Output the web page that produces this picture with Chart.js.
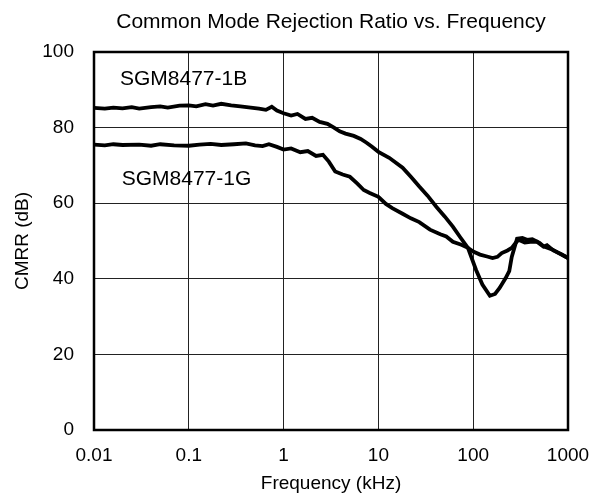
<!DOCTYPE html>
<html>
<head>
<meta charset="utf-8">
<script src="https://cdn.jsdelivr.net/npm/chart.js@4"></script>
<style>
  html, body { margin: 0; padding: 0; background: #fff; }
  #wrap { width: 592px; height: 499px; }
</style>
</head>
<body>
<div id="wrap"><canvas id="c" width="592" height="499"></canvas></div>
<script>
// ---- data ----
const freqB = [0.01,0.013,0.016,0.02,0.025,0.03,0.04,0.05,0.06,0.08,0.1,0.12,0.15,0.18,0.22,0.28,0.35,0.45,0.55,0.65,0.75,0.85,1.0,1.2,1.4,1.7,2.0,2.4,2.9,3.4,3.9,4.5,5.5,6.5,7.5,8.5,10,13,18,22,27,33,41,50,61,73,88,107,125,150,170,190,220,240,255,290,330,370,420,500,560,690,800,1000];
const cmrrB = [85.2,85.0,85.3,85.1,85.4,85.0,85.4,85.6,85.3,85.8,85.9,85.6,86.2,85.8,86.3,85.9,85.6,85.3,85.0,84.7,85.5,84.5,83.8,83.2,83.6,82.3,82.6,81.5,81.0,80.0,79.0,78.4,77.8,77.0,76.0,75.0,73.6,72.0,69.4,67.0,64.4,62.0,59.0,56.5,53.8,51.0,48.2,42.4,38.5,35.5,36.0,37.6,40.2,42.0,45.8,50.6,50.8,50.3,50.5,49.5,48.5,47.7,46.8,45.5];

const freqG = [0.01,0.013,0.016,0.02,0.03,0.04,0.05,0.07,0.1,0.13,0.17,0.22,0.3,0.4,0.5,0.6,0.7,0.85,1.0,1.2,1.5,1.8,2.2,2.6,3.0,3.5,4.2,5.0,6.0,7.0,8.1,10,12,14,18,22,27,35,45,52,61,75,88,100,118,140,160,180,200,230,255,280,300,350,400,470,550,600,700,850,1000];
const cmrrG = [75.5,75.3,75.6,75.4,75.5,75.2,75.6,75.3,75.2,75.5,75.7,75.4,75.6,75.8,75.3,75.1,75.6,74.9,74.2,74.5,73.5,73.8,72.5,72.8,71.0,68.4,67.6,67.0,65.2,63.5,62.7,61.7,59.8,58.7,57.2,56.0,55.0,53.0,51.8,51.2,49.8,49.0,48.2,47.2,46.4,45.9,45.5,45.8,46.8,47.5,48.2,49.5,50.3,49.6,49.8,49.8,48.5,48.9,47.5,46.5,45.5];

const seriesNames = ['SGM8477-1B', 'SGM8477-1G'];
const xTicks = [0.01, 0.1, 1, 10, 100, 1000];
const xTickLabels = ['0.01', '0.1', '1', '10', '100', '1000'];
const yTicks = [0, 20, 40, 60, 80, 100];
const titleText = 'Common Mode Rejection Ratio vs. Frequency';
const xTitle = 'Frequency (kHz)';
const yTitle = 'CMRR (dB)';
// label anchor points in data coordinates (frequency, dB)
const labelAnchors = [[0.0188, 92.9], [0.0196, 66.4]];

const FONT = "'Liberation Sans', Arial, sans-serif";

const toXY = (xs, ys) => xs.map((x, i) => ({x: x, y: ys[i]}));

const frameAndLabels = {
  id: 'frameAndLabels',
  afterDraw(chart) {
    const {ctx, chartArea: a, scales} = chart;
    ctx.save();
    ctx.strokeStyle = '#000';
    ctx.lineWidth = 2.5;
    ctx.strokeRect(a.left, a.top, a.right - a.left, a.bottom - a.top);
    ctx.fillStyle = '#000';
    // chart title centred over the plot area
    ctx.font = '21px ' + FONT;
    ctx.textAlign = 'center';
    ctx.textBaseline = 'middle';
    ctx.fillText(titleText, (a.left + a.right) / 2, 22);
    // series labels
    ctx.textAlign = 'left';
    seriesNames.forEach((n, i) => {
      const [fx, fy] = labelAnchors[i];
      ctx.fillText(n, scales.x.getPixelForValue(fx), scales.y.getPixelForValue(fy));
    });
    ctx.restore();
  }
};

new Chart(document.getElementById('c'), {
  type: 'line',
  data: {
    datasets: [
      { label: seriesNames[0], data: toXY(freqB, cmrrB), borderColor: '#000', borderWidth: 3.8, pointRadius: 0, tension: 0, fill: false },
      { label: seriesNames[1], data: toXY(freqG, cmrrG), borderColor: '#000', borderWidth: 3.8, pointRadius: 0, tension: 0, fill: false }
    ]
  },
  options: {
    responsive: false,
    animation: false,
    devicePixelRatio: 1,
    layout: { padding: { left: 0, right: 24, top: 52, bottom: 0 } },
    plugins: {
      legend: { display: false },
      tooltip: { enabled: false },
      title: { display: false }
    },
    scales: {
      x: {
        type: 'logarithmic', min: 0.01, max: 1000,
        afterBuildTicks(s) { s.ticks = xTicks.map(v => ({value: v})); },
        afterFit(s) { s.height = 69; s.paddingRight = 0; s.paddingLeft = 0; },
        ticks: {
          color: '#000', font: { family: FONT, size: 19 }, padding: 14,
          autoSkip: false, maxRotation: 0,
          callback: (v, i) => xTickLabels[i]
        },
        grid: { color: '#222', lineWidth: 1, drawTicks: false },
        border: { display: false },
        title: { display: true, text: xTitle, color: '#000', font: { family: FONT, size: 19 }, padding: { top: 0, bottom: 4 } }
      },
      y: {
        type: 'linear', min: 0, max: 100,
        afterBuildTicks(s) { s.ticks = yTicks.map(v => ({value: v})); },
        afterFit(s) { s.width = 94; s.paddingTop = 0; s.paddingBottom = 0; },
        ticks: { color: '#000', font: { family: FONT, size: 19 }, padding: 20 },
        grid: { color: '#222', lineWidth: 1, drawTicks: false },
        border: { display: false },
        title: { display: true, text: yTitle, color: '#000', font: { family: FONT, size: 19 }, padding: { top: 11, bottom: 0 } }
      }
    }
  },
  plugins: [frameAndLabels]
});
</script>
</body>
</html>
